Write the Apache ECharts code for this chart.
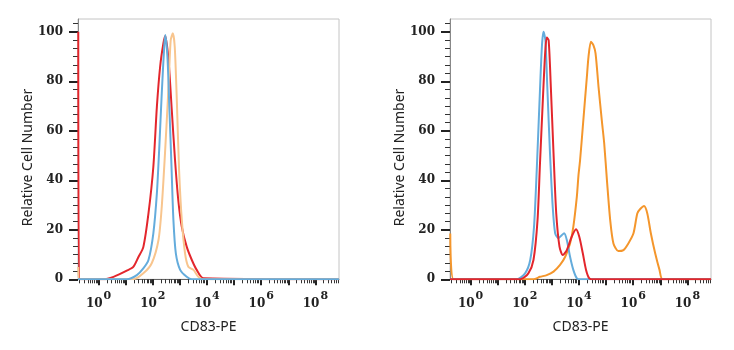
<!DOCTYPE html>
<html>
<head>
<meta charset="utf-8">
<script src="https://cdn.jsdelivr.net/npm/echarts@6/dist/echarts.min.js"></script>
<style>
html,body{margin:0;padding:0;background:#fff;}
#chart{width:734px;height:350px;}
</style>
</head>
<body>
<div id="chart"></div>
<script>
// x values are log10 of fluorescence intensity; y values are relative cell number (%)
const xTickLabels = [0, 2, 4, 6, 8];
const yTickLabels = [0, 20, 40, 60, 80, 100];

const leftRedX = [-0.75, -0.72, 0.17, 0.55, 1.04, 1.28, 1.47, 1.65, 1.84, 2.02, 2.15, 2.27, 2.39, 2.46, 2.58, 2.70, 2.82, 2.94, 3.07, 3.25, 3.44, 3.62, 3.87, 8.87];
const leftRedY = [100, 0, 0, 1, 3.5, 5, 9, 13, 26.6, 45.5, 69.7, 85.9, 95.3, 98.3, 88.6, 68.4, 48.2, 32, 21.2, 13.2, 7.8, 3.8, 0.4, 0];

const leftBlueX = [-0.76, 1.04, 1.41, 1.65, 1.84, 2.02, 2.15, 2.24, 2.33, 2.42, 2.46, 2.54, 2.61, 2.69, 2.76, 2.85, 3.01, 3.25, 3.44, 8.87];
const leftBlueY = [0, 0, 1.7, 4.4, 7.8, 18.6, 34.7, 53.6, 75.1, 93.9, 98.7, 89.9, 69.7, 45.5, 24, 10.5, 3.8, 1, 0, 0];

const leftOrangeX = [-0.75, -0.7, 1.28, 1.65, 1.96, 2.21, 2.33, 2.45, 2.58, 2.66, 2.74, 2.81, 2.89, 2.97, 3.07, 3.19, 3.31, 3.50, 3.68, 3.87, 8.87];
const leftOrangeY = [5, 0, 0, 2.4, 6.5, 15.9, 29.3, 50.9, 77.8, 96.6, 99.4, 93.9, 71.1, 44.1, 24, 10.5, 5.1, 3.8, 1, 0, 0];

const rightBlueX = [-0.76, 1.70, 2.01, 2.20, 2.34, 2.44, 2.54, 2.63, 2.69, 2.76, 2.83, 2.93, 3.03, 3.12, 3.24, 3.37, 3.45, 3.55, 3.67, 3.79, 3.92, 4.04, 8.87];
const rightBlueY = [0, 0, 2.4, 7.8, 21.2, 44.1, 71.1, 93.9, 100, 96.6, 77.8, 50.9, 29.3, 18.6, 16.6, 17.9, 18.6, 15.9, 9.1, 3.8, 0.4, 0, 0];

const rightRedX = [-0.76, 1.83, 2.13, 2.32, 2.47, 2.56, 2.66, 2.75, 2.81, 2.88, 2.96, 3.06, 3.16, 3.28, 3.40, 3.55, 3.73, 3.89, 4.01, 4.14, 4.26, 4.38, 4.53, 8.87];
const rightRedY = [0, 0, 2.4, 7.8, 24, 46.8, 71.1, 91.3, 97.7, 96.6, 77.8, 50.9, 26.6, 13.2, 9.8, 11.8, 17.2, 20.2, 17.2, 10.5, 3.8, 0.4, 0, 0];

const rightOrangeX = [-0.75, -0.63, 2.32, 2.56, 2.81, 3.06, 3.30, 3.49, 3.67, 3.79, 3.92, 3.98, 4.04, 4.14, 4.23, 4.29, 4.35, 4.44, 4.53, 4.61, 4.72, 4.84, 4.93, 5.03, 5.15, 5.27, 5.45, 5.64, 5.82, 6.01, 6.15, 6.25, 6.40, 6.52, 6.65, 6.81, 6.97, 7.09, 8.87];
const rightOrangeY = [18.5, 0, 0, 1, 1.7, 3.1, 5.8, 9.1, 14.5, 21.2, 33.4, 42, 48.2, 61.6, 73.8, 81.8, 89.9, 96, 94.6, 91.3, 77.8, 64.3, 54.9, 40.1, 24, 14.5, 11.4, 11.8, 14.5, 18.6, 26.6, 28.3, 29.6, 26.6, 18.6, 10.5, 3.8, 0, 0];

const X_MIN = -0.76, X_MAX = 8.87, Y_MAX = 105.2;
const RED = '#e3262c', BLUE = '#64acdc', LORANGE = '#f8c58e', ORANGE = '#f4962c';

function pairs(xs, ys) { return xs.map((x, i) => [x, ys[i]]); }

const majorX = [];
for (let k = 0; k <= 8; k++) majorX.push(k);
const minorX = [];
for (let k = -1; k <= 8; k++) for (let m = 2; m <= 9; m++) {
  const v = k + Math.log10(m);
  if (v > X_MIN && v < X_MAX) minorX.push(v);
}
const minorY = [];
for (let i = 1; i * 20 / 6 < Y_MAX; i++) { if (i % 6 !== 0) minorY.push(i * 20 / 6); }

const serifLabel = { fontFamily: 'DejaVu Serif', fontWeight: 'bold', color: '#222' };

function grid(left) { return { left: left, top: 19, width: 261, height: 260.3, show: true, borderColor: '#c4c4c4', borderWidth: 1 }; }

function xAxes(gi) {
  return [
    { type: 'value', gridIndex: gi, min: X_MIN, max: X_MAX, position: 'bottom',
      axisLine: { show: true, onZero: false, lineStyle: { color: '#666', width: 1 } },
      axisTick: { show: true, customValues: minorX, length: 4, lineStyle: { color: '#333', width: 1 } },
      axisLabel: { show: false }, splitLine: { show: false },
      name: 'CD83-PE', nameLocation: 'middle', nameGap: 41,
      nameTextStyle: { fontFamily: 'Noto Sans', fontSize: 14, color: '#222' } },
    { type: 'value', gridIndex: gi, min: X_MIN, max: X_MAX, position: 'bottom',
      axisLine: { show: false, onZero: false },
      axisTick: { show: true, customValues: majorX, length: 6, lineStyle: { color: '#222', width: 2 } },
      axisLabel: { show: true, customValues: xTickLabels, margin: 11,
        formatter: v => '{b|10}{s|' + v + '}',
        rich: { b: Object.assign({ fontSize: 12, lineHeight: 20, verticalAlign: 'bottom' }, serifLabel),
                s: Object.assign({ fontSize: 11, lineHeight: 12, verticalAlign: 'top', padding: [0, 0, 0, 1] }, serifLabel) } },
      splitLine: { show: false } }
  ];
}
function yAxes(gi) {
  return [
    { type: 'value', gridIndex: gi, min: 0, max: Y_MAX, position: 'left',
      axisLine: { show: true, onZero: false, lineStyle: { color: '#888', width: 1 } },
      axisTick: { show: true, customValues: yTickLabels, length: 9, lineStyle: { color: '#222', width: 2 } },
      axisLabel: { show: true, customValues: yTickLabels, margin: 15, fontSize: 12, fontFamily: 'DejaVu Serif', fontWeight: 'bold', color: '#222' },
      splitLine: { show: false } },
    { type: 'value', gridIndex: gi, min: 0, max: Y_MAX, position: 'left',
      axisLine: { show: false, onZero: false },
      axisTick: { show: true, customValues: minorY, length: 5, lineStyle: { color: '#333', width: 1 } },
      axisLabel: { show: false }, splitLine: { show: false } }
  ];
}
function line(xi, yi, data, color) {
  return { type: 'line', xAxisIndex: xi, yAxisIndex: yi, data: data, showSymbol: false, smooth: 0.25,
    lineStyle: { color: color, width: 2 }, itemStyle: { color: color }, animation: false };
}

const chart = echarts.init(document.getElementById('chart'), null, { renderer: 'canvas' });
chart.setOption({
  backgroundColor: '#fff',
  animation: false,
  grid: [grid(78), grid(450)],
  xAxis: xAxes(0).concat(xAxes(1)),
  yAxis: yAxes(0).concat(yAxes(1)),
  series: [
    line(0, 0, pairs(leftRedX, leftRedY), RED),
    line(0, 0, pairs(leftOrangeX, leftOrangeY), LORANGE),
    line(0, 0, pairs(leftBlueX, leftBlueY), BLUE),
    line(2, 2, pairs(rightOrangeX, rightOrangeY), ORANGE),
    line(2, 2, pairs(rightBlueX, rightBlueY), BLUE),
    line(2, 2, pairs(rightRedX, rightRedY), RED)
  ],
  graphic: [
    { type: 'text', x: 28, y: 157.5, rotation: Math.PI / 2,
      style: { text: 'Relative Cell Number', fontFamily: 'Noto Sans', fontSize: 14, fill: '#222', align: 'center', verticalAlign: 'middle' } },
    { type: 'text', x: 400, y: 157.5, rotation: Math.PI / 2,
      style: { text: 'Relative Cell Number', fontFamily: 'Noto Sans', fontSize: 14, fill: '#222', align: 'center', verticalAlign: 'middle' } }
  ]
});
</script>
</body>
</html>
